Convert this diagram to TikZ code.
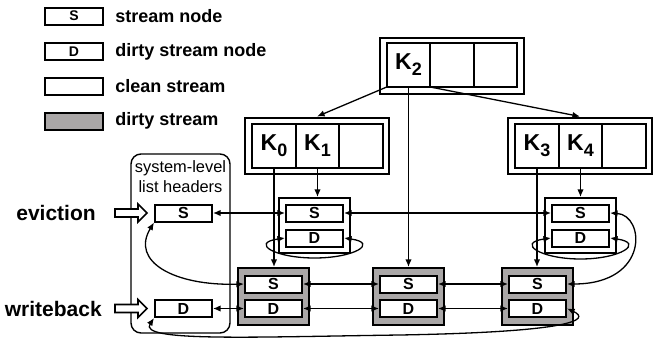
\documentclass[tikz,border=0pt]{standalone}
\usepackage{fontspec}
\setmainfont{Liberation Sans}
\usetikzlibrary{positioning,shapes,arrows.meta}
\definecolor{dirtygray}{RGB}{170,167,167}
\newcommand{\kkey}[1]{K\raisebox{-3pt}{\fontsize{9}{9}\selectfont #1}}

\begin{document}
\begin{tikzpicture}[x=0.5pt, y=-0.5pt, line width=0.65pt, >={Latex[length=3.8pt,width=3.2pt]}]
    \tikzset{sbox/.style={draw, line width=1pt, fill=white, minimum width=28.5pt, minimum height=8.5pt, inner sep=0pt, font=\fontsize{8}{8}\selectfont\bfseries},
             legbox/.style={draw, line width=1pt, minimum width=29pt, minimum height=8.5pt, inner sep=0pt, font=\fontsize{7}{8}\selectfont\bfseries},
             legtext/.style={font=\fontsize{9}{10}\selectfont\bfseries},
             cont/.style={draw, line width=1pt, fill=white, minimum width=35.5pt, minimum height=27.5pt},
             dirty/.style={cont, fill=dirtygray, minimum height=28.5pt},
             kcell/.style={draw, line width=1pt, minimum width=21.75pt, minimum height=22pt, inner sep=0pt, outer sep=0pt, font=\fontsize{11.5}{12}\selectfont\bfseries},
             kframe/.style={draw, line width=1pt, minimum width=72pt, minimum height=28pt},
             hollow/.style={draw, line width=0.8pt, fill=white, line join=miter},
             side/.style={font=\fontsize{10.5}{12}\selectfont\bfseries}}
    \useasboundingbox (0,0) rectangle (655,338);

    % Legend
    \node[legbox]            (ls) at (74,16)   {S};
    \node[legbox]            (ld) at (74,51.5) {D};
    \node[legbox]            (lc) at (74,86)   {};
    \node[legbox, fill=dirtygray] (lg) at (74,121) {};
    \node[legtext, right=2pt of ls] (lstxt) {stream node};
    \node[legtext, right=2pt of ld] (ldtxt) {dirty stream node};
    \node[legtext, right=2pt of lc] (lctxt) {clean stream};
    \node[legtext, right=2pt of lg] (lgtxt) {dirty stream};

    % Index nodes
    \node[kframe] (ktop)   at (452,65.5)  {};
    \node[kframe] (kleft)  at (317,145.5) {};
    \node[kframe] (kright) at (580,145.5) {};
    \node[kcell] (ktopmid) at (452,65) {};
    \node[kcell, left=0pt of ktopmid]  (ktwo) {\kkey{2}};
    \node[kcell, right=0pt of ktopmid] (ktopend) {};
    \node[kcell] (kone) at (317.5,145.5) {\kkey{1}};
    \node[kcell, left=0pt of kone]  (kzero) {\kkey{0}};
    \node[kcell, right=0pt of kone] (kleftend) {};
    \node[kcell] (kfour) at (580.5,145.5) {\kkey{4}};
    \node[kcell, left=0pt of kfour]  (kthree) {\kkey{3}};
    \node[kcell, right=0pt of kfour] (krightend) {};

    % System-level list headers
    \node[draw, rounded corners=5pt, line width=0.7pt, minimum width=49.5pt, minimum height=89.5pt] (hdrpanel) at (180.5,243.5) {};
    \node[align=center, inner sep=0pt, font=\fontsize{8.2}{10}\selectfont] (hdrtitle) at (180.5,177) {system-level\\list headers};
    \node[sbox] (hs) at (183.5,213)   {S};
    \node[sbox] (hd) at (183.5,308.5) {D};
    \coordinate (evtail) at (115,213);
    \coordinate (wbtail) at (115,308.5);
    \draw[hollow] (evtail) ++(0,-4) -- ++(23,0) -- ++(0,-5) -- ++(9,9) -- ++(-9,9) -- ++(0,-5) -- ++(-23,0) -- cycle;
    \draw[hollow] (wbtail) ++(0,-4) -- ++(23,0) -- ++(0,-5) -- ++(9,9) -- ++(-9,9) -- ++(0,-5) -- ++(-23,0) -- cycle;
    \node[side, anchor=east] (evtxt) at (103,213)   {eviction};
    \node[side, anchor=east] (wbtxt) at (109,308.5) {writeback};

    % Clean streams
    \node[cont] (cleft)  at (314.5,225.5) {};
    \node[cont] (cright) at (580.5,225.5) {};
    \node[sbox] (cls) at (314.5,213) {S};
    \node[sbox] (cld) at (314.5,238) {D};
    \node[sbox] (crs) at (580.5,213) {S};
    \node[sbox] (crd) at (580.5,238) {D};

    % Dirty streams
    \node[dirty] (dleft)  at (273.5,296.5) {};
    \node[dirty] (dmid)   at (408.5,296.5) {};
    \node[dirty] (dright) at (537.5,296.5) {};
    \node[sbox] (dls) at (273.5,284)   {S};
    \node[sbox] (dld) at (273.5,308.5) {D};
    \node[sbox] (dms) at (408.5,284)   {S};
    \node[sbox] (dmd) at (408.5,308.5) {D};
    \node[sbox] (drs) at (537.5,284)   {S};
    \node[sbox] (drd) at (537.5,308.5) {D};

    % Index pointers
    \draw[->] (ktwo.south west) -- (kleft.north);
    \draw[->] (ktwo.south east) -- (kright.north);
    \draw[->] (ktwo.south) -- (ktwo.south |- dmid.north);
    \draw[->] (kzero.south) -- (kzero.south |- dleft.north);
    \draw[->] (kone.south) -- (kone.south |- cleft.north);
    \draw[->] (kthree.south) -- (kthree.south |- dright.north);
    \draw[->] (kfour.south) -- (kfour.south |- cright.north);

    % Stream lists
    \draw[<->] (hs.east) -- (cls.west);
    \draw[<->] (cls.east) -- (crs.west);
    \draw[<->] (hd.east) -- (dld.west);
    \draw[<->] (dls.east) -- (dms.west);
    \draw[<->] (dms.east) -- (drs.west);
    \draw[<->] (dld.east) -- (dmd.west);
    \draw[<->] (dmd.east) -- (drd.west);

    % Wrap-around links
    \draw[<->] (hs.south west) .. controls (130,262) and (175,286) .. (dls.west);
    \draw[<->] (crs.east) .. controls (645,215) and (650,284) .. (drs.east);
    \draw[<->] (cld.east) .. controls +(35,5) and +(40,0) .. ([yshift=-2pt]cleft.south) .. controls +(-40,0) and +(-35,5) .. (cld.west);
    \draw[<->] (crd.east) .. controls +(35,5) and +(40,0) .. ([yshift=-2.5pt]cright.south) .. controls +(-40,0) and +(-35,5) .. (crd.west);
    \draw[<->] (hd.south west) .. controls (138,342) and (250,337) .. (400,335) .. controls (570,332) and (592,320) .. (drd.east);
  \end{tikzpicture}
\end{document}
